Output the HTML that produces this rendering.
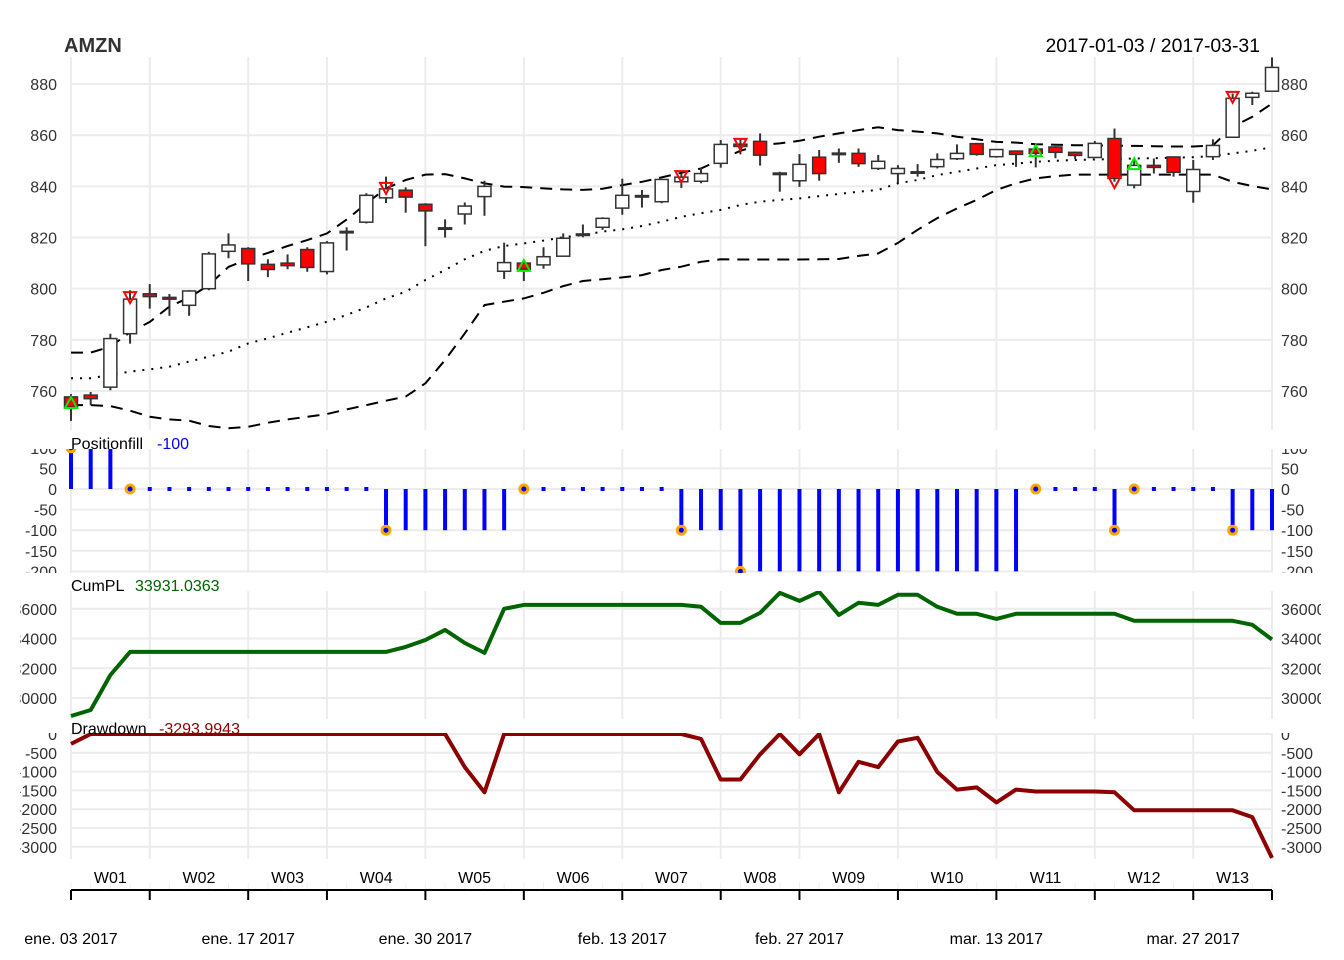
<!DOCTYPE html>
<html><head><meta charset="utf-8">
<style>
body{margin:0;background:#fff;}
svg{display:block;font-family:"Liberation Sans",Arial,sans-serif;}
</style></head>
<body>
<svg id="chart" width="1344" height="960" viewBox="0 0 1344 960" xmlns="http://www.w3.org/2000/svg">
<defs>
<clipPath id="cPrice"><rect x="0" y="57" width="1344" height="373"/></clipPath>
<clipPath id="cPos"><rect x="0" y="449" width="1344" height="124"/></clipPath>
<clipPath id="cPosL"><rect x="20" y="449" width="1302" height="124"/></clipPath>
<clipPath id="cPL"><rect x="0" y="591" width="1344" height="128"/></clipPath>
<clipPath id="cPLL"><rect x="20" y="591" width="1301" height="128"/></clipPath>
<clipPath id="cDD"><rect x="0" y="733" width="1344" height="126"/></clipPath>
<clipPath id="cDDL"><rect x="20" y="733" width="1302" height="126"/></clipPath>
</defs>
<text x="64" y="52" font-size="20" font-weight="bold" fill="#333">AMZN</text>
<text x="1260" y="52" font-size="19.4" text-anchor="end" fill="#000">2017-01-03 / 2017-03-31</text>
<g id="grid"></g>
<g id="marks"></g>
<g id="labels"></g>
</svg>
<script>
// ---- data ----
const dates = ["2017-01-03","2017-01-04","2017-01-05","2017-01-06","2017-01-09","2017-01-10","2017-01-11","2017-01-12","2017-01-13","2017-01-17","2017-01-18","2017-01-19","2017-01-20","2017-01-23","2017-01-24","2017-01-25","2017-01-26","2017-01-27","2017-01-30","2017-01-31","2017-02-01","2017-02-02","2017-02-03","2017-02-06","2017-02-07","2017-02-08","2017-02-09","2017-02-10","2017-02-13","2017-02-14","2017-02-15","2017-02-16","2017-02-17","2017-02-21","2017-02-22","2017-02-23","2017-02-24","2017-02-27","2017-02-28","2017-03-01","2017-03-02","2017-03-03","2017-03-06","2017-03-07","2017-03-08","2017-03-09","2017-03-10","2017-03-13","2017-03-14","2017-03-15","2017-03-16","2017-03-17","2017-03-20","2017-03-21","2017-03-22","2017-03-23","2017-03-24","2017-03-27","2017-03-28","2017-03-29","2017-03-30","2017-03-31"];
const opens  = [757.7,758.4,761.5,782.4,798.0,796.6,793.5,800.0,814.6,815.7,809.5,810.0,815.3,806.7,822.0,826.0,835.5,838.5,833.0,823.8,829.2,836.0,806.8,810.0,809.3,812.7,821.0,824.0,831.5,836.0,834.0,841.8,842.0,849.0,856.5,857.6,845.0,842.2,851.4,852.7,852.9,847.0,845.0,845.5,847.7,850.8,856.7,851.6,853.8,854.6,855.4,853.3,851.3,858.7,840.5,848.2,851.5,838.0,851.6,859.2,874.8,877.2];
const highs  = [758.8,759.6,782.4,799.4,801.8,797.9,799.4,814.4,821.6,816.2,811.5,813.4,816.2,818.6,824.0,837.3,843.8,839.6,833.4,827.1,833.7,842.2,818.0,810.5,816.2,821.6,825.1,827.9,843.0,838.6,842.7,845.0,847.3,858.1,858.4,860.7,845.7,852.6,854.2,854.8,854.8,852.3,848.3,848.7,852.9,856.4,857.0,854.6,853.8,856.2,855.7,853.6,857.7,862.6,850.3,850.9,851.6,850.3,858.4,876.3,877.0,890.4];
const lows   = [748.3,754.4,760.3,778.5,792.2,789.4,789.4,799.4,811.9,803.0,804.5,807.6,806.6,805.6,814.9,825.5,833.5,829.7,816.6,820.0,825.1,828.5,803.8,803.0,807.8,812.5,820.1,823.0,828.9,831.7,833.4,839.4,841.2,847.3,852.5,848.1,837.9,839.8,842.2,849.2,847.6,846.4,841.4,843.8,847.0,850.3,852.0,851.2,847.6,847.4,851.0,850.7,851.2,841.8,839.2,845.0,843.8,833.6,850.3,859.0,871.8,877.2];
const closes = [753.7,757.0,780.5,795.9,796.9,795.9,799.1,813.6,817.1,809.7,807.5,809.0,808.3,817.9,822.4,836.5,839.0,835.8,830.4,823.5,832.3,840.0,810.2,807.6,812.5,819.7,821.4,827.5,836.5,836.4,842.7,843.6,845.0,856.4,855.6,852.2,845.2,848.6,845.0,853.0,848.9,849.8,847.0,845.7,850.5,852.9,852.5,854.4,852.5,852.9,853.3,852.1,856.8,843.1,848.2,847.4,845.5,846.6,856.0,874.4,876.4,886.5];
const bbUpper = [775,775,777.3,783,787,793,796.5,801.4,808.5,811.6,814,816.7,819,821.6,827,833.3,839.2,842.5,844.6,844.8,843.1,841.2,839.9,839.7,839.2,838.8,838.6,839.1,840.5,841.8,843.5,845.3,847,850.5,853.9,856.2,856.8,857.8,859.4,860.7,862,863.1,862,861.4,860.7,859.4,858.4,857.4,857.1,856.5,856.3,856.1,856,855.9,855.8,855.7,855.6,855.6,856,863.3,867.2,872.4];
const bbMid   = [765,765,766.3,767.6,768.5,769.5,771.5,773.4,775.4,778.6,780.6,782.8,784.9,787.1,789.7,792.7,796.2,798.8,803.4,807.3,811.5,814.8,816.7,817.7,818.8,820.1,821,822.3,823.2,824.5,826.2,828.1,829.5,830.8,832.7,834,834.7,835.3,836.2,837,837.9,838.6,841.2,842.5,844.4,845.7,847,848.3,848.9,849.6,850,850.3,850.5,850.7,850.9,851,851.2,851.4,851.9,852.9,853.9,855.3];
const bbLower = [754.5,754.5,754.1,752.3,749.9,748.9,748.4,746.3,745.4,746,747.6,748.9,749.9,751,752.8,754.5,756.2,757.8,763,772.1,782.5,793.6,794.9,796.2,798.4,801,803,803.7,804.4,805.3,807.3,808.6,810.5,811.5,811.4,811.4,811.4,811.4,811.5,811.6,812.8,813.8,817.9,823,827.6,831.4,834.7,838.6,841.2,843.1,844,844.6,844.6,844.6,844.6,844.6,844.6,844.6,844.6,841.8,840.1,838.8];
const buyIdx = [0,23,49,54];
const buyPx  = [755.3,808.9,853.8,848.7];
const sellIdx = [3,16,31,34,53,59];
const sellPx  = [796.7,839.4,844.0,856.6,841.7,875.0];
const position = [100,100,100,0,0,0,0,0,0,0,0,0,0,0,0,0,-100,-100,-100,-100,-100,-100,-100,0,0,0,0,0,0,0,0,-100,-100,-100,-200,-200,-200,-200,-200,-200,-200,-200,-200,-200,-200,-200,-200,-200,-200,0,0,0,0,-100,0,0,0,0,0,-100,-100,-100];
const txnIdx = [0,3,16,23,31,34,49,53,54,59];
const cumPL = [28788,29192,31550,33100,33100,33100,33100,33100,33100,33100,33100,33100,33100,33100,33100,33100,33100,33434,33900,34580,33700,33030,36000,36260,36260,36260,36260,36260,36260,36260,36260,36260,36130,35050,35050,35720,37070,36530,37140,35590,36400,36260,36940,36940,36130,35660,35660,35320,35660,35660,35660,35660,35660,35660,35190,35190,35190,35190,35190,35190,34920,33931];
const drawdown = [-263,0,0,0,0,0,0,0,0,0,0,0,0,0,0,0,0,0,0,0,-880,-1550,0,0,0,0,0,0,0,0,0,0,-130,-1210,-1210,-540,0,-540,0,-1550,-740,-880,-200,-100,-1010,-1480,-1420,-1820,-1480,-1530,-1530,-1530,-1530,-1550,-2030,-2030,-2030,-2030,-2030,-2030,-2210,-3294];
const priceTicks = [760,780,800,820,840,860,880];
const posTicks = [100,50,0,-50,-100,-150,-200];
const plTicks = [30000,32000,34000,36000];
const ddTicks = [0,-500,-1000,-1500,-2000,-2500,-3000];
const weekStartIdx = [0,4,9,13,18,23,28,33,37,42,47,52,57,61];
const weekLabels = ["W01","W02","W03","W04","W05","W06","W07","W08","W09","W10","W11","W12","W13"];
const dateLabelIdx = [0,9,18,28,37,47,57];
const dateLabels = ["ene. 03 2017","ene. 17 2017","ene. 30 2017","feb. 13 2017","feb. 27 2017","mar. 13 2017","mar. 27 2017"];

// ---- scales ----
const N = dates.length;
const X0 = 71, X1 = 1272;
const xs = i => X0 + i*(X1-X0)/(N-1);
const yPrice = p => 391 - (p-760)*2.558;
const yPos = v => 489 - v*0.412;
const yPL = v => 698 - (v-30000)*0.01487;
const yDD = v => 734 - v*0.0376;

const NS = "http://www.w3.org/2000/svg";
const grid = document.getElementById('grid');
const marks = document.getElementById('marks');
const labels = document.getElementById('labels');
function el(tag, attrs, parent){
  const e = document.createElementNS(NS, tag);
  for (const k in attrs) e.setAttribute(k, attrs[k]);
  parent.appendChild(e);
  return e;
}
function txt(s, attrs, parent){ const t = el('text', attrs, parent); t.textContent = s; return t; }

const panels = [
  {ticks:priceTicks, y:yPrice, top:57, bot:430, clip:'cPrice', clipL:null, name:'price'},
  {ticks:posTicks, y:yPos, top:449, bot:573, clip:'cPos', clipL:'cPosL', name:'position'},
  {ticks:plTicks, y:yPL, top:591, bot:719, clip:'cPL', clipL:'cPLL', name:'cumpl'},
  {ticks:ddTicks, y:yDD, top:733, bot:859, clip:'cDD', clipL:'cDDL', name:'drawdown'}
];
panels.forEach(p=>{
  p.ticks.forEach(t=>{
    const ln = el('line',{x1:X0,x2:X1,y1:p.y(t),y2:p.y(t),stroke:'#ececec','stroke-width':2,'clip-path':'url(#'+p.clip+')'},grid);
    
    
    const g = el('g', p.clipL?{'clip-path':'url(#'+p.clipL+')'}:{}, labels);
    const l1 = txt(String(t),{x:57,y:p.y(t)+6,'font-size':16,'text-anchor':'end',fill:'#333'},g);
    
    
    const l2 = txt(String(t),{x:1281,y:p.y(t)+6,'font-size':16,'text-anchor':'start',fill:'#333'},g);
    
    
  });
  weekStartIdx.forEach(i=>{
    const v = el('line',{x1:xs(i),x2:xs(i),y1:p.top,y2:p.bot,stroke:'#ececec','stroke-width':2},grid);
    
    
  });
});

function polyline(vals, yf, attrs, parent){
  const pts = vals.map((v,i)=>xs(i).toFixed(1)+','+yf(v).toFixed(1)).join(' ');
  return el('polyline', Object.assign({points:pts, fill:'none'}, attrs), parent);
}
const gP = el('g',{'clip-path':'url(#cPrice)'},marks);
const bu = polyline(bbUpper, yPrice, {stroke:'#000','stroke-width':2,'stroke-dasharray':'12,8'}, gP);


const bl = polyline(bbLower, yPrice, {stroke:'#000','stroke-width':2,'stroke-dasharray':'12,8'}, gP);


const bm = polyline(bbMid, yPrice, {stroke:'#000','stroke-width':2,'stroke-dasharray':'2,7'}, gP);



for (let i=0;i<N;i++){
  const x = xs(i);
  const w = el('line',{x1:x,x2:x,y1:yPrice(highs[i]),y2:yPrice(lows[i]),stroke:'#333','stroke-width':2},gP);
  
  
  const up = closes[i] >= opens[i];
  const yt = yPrice(Math.max(opens[i],closes[i]));
  const yb = yPrice(Math.min(opens[i],closes[i]));
  const b = el('rect',{x:x-6.5,y:yt,width:13,height:Math.max(yb-yt,1.5),fill:up?'#fff':'#ff0000',stroke:'#333','stroke-width':1.5},gP);
  
  
}
buyIdx.forEach((i,k)=>{
  const x=xs(i), y=yPrice(buyPx[k]);
  const t = el('polygon',{points:`${x-6},${y+5} ${x+6},${y+5} ${x},${y-6}`,fill:'none',stroke:'#00ee00','stroke-width':2},gP);
  
  
});
sellIdx.forEach((i,k)=>{
  const x=xs(i), y=yPrice(sellPx[k]);
  const t = el('polygon',{points:`${x-6},${y-5} ${x+6},${y-5} ${x},${y+6}`,fill:'none',stroke:'#ff0000','stroke-width':2},gP);
  
  
});

const gPos = el('g',{'clip-path':'url(#cPos)'},marks);
for (let i=0;i<N;i++){
  const x = xs(i);
  if (position[i] === 0){
    const d = el('rect',{x:x-2,y:yPos(0)-2,width:4,height:4,fill:'#0000ff'},gPos);
    
    
  } else {
    const b = el('line',{x1:x,x2:x,y1:yPos(0),y2:yPos(position[i]),stroke:'#0000ff','stroke-width':4},gPos);
    
    
  }
}
txnIdx.forEach(i=>{
  const c = el('circle',{cx:xs(i),cy:yPos(position[i]),r:4,fill:'#0000ff',stroke:'#ffa500','stroke-width':3},gPos);
  
  
});
const tp = txt('Positionfill',{x:71,y:449,'font-size':16,fill:'#000'},labels);


const tpv = txt('-100',{x:157,y:449,'font-size':16,fill:'#0000ff'},labels);



const gPL = el('g',{'clip-path':'url(#cPL)'},marks);
const pl = polyline(cumPL, yPL, {stroke:'#006400','stroke-width':4,'stroke-linejoin':'round'}, gPL);


const tc = txt('CumPL',{x:71,y:591,'font-size':16,fill:'#000'},labels);


const tcv = txt('33931.0363',{x:135,y:591,'font-size':16,fill:'#006400'},labels);



const gDD = el('g',{'clip-path':'url(#cDD)'},marks);
const dd = polyline(drawdown, yDD, {stroke:'#8b0000','stroke-width':4,'stroke-linejoin':'round'}, gDD);


const td = txt('Drawdown',{x:71,y:734,'font-size':16,fill:'#000'},labels);


const tdv = txt('-3293.9943',{x:159,y:734,'font-size':16,fill:'#8b0000'},labels);



const ax = el('line',{x1:X0,x2:X1,y1:890,y2:890,stroke:'#000','stroke-width':2},labels);


weekStartIdx.forEach(i=>{
  const t = el('line',{x1:xs(i),x2:xs(i),y1:890,y2:900,stroke:'#000','stroke-width':2},labels);
  
  
});
for (let i=0;i<N;i++){
  const m = el('line',{x1:xs(i),x2:xs(i),y1:883,y2:890,stroke:'#eeeeee','stroke-width':1},grid);
  
  
}
weekLabels.forEach((s,k)=>{
  const cx = (xs(weekStartIdx[k])+xs(weekStartIdx[k+1]))/2;
  const t = txt(s,{x:cx,y:883,'font-size':16,'text-anchor':'middle',fill:'#000'},labels);
  
  
});
dateLabels.forEach((s,k)=>{
  const t = txt(s,{x:xs(dateLabelIdx[k]),y:944,'font-size':16,'text-anchor':'middle',fill:'#000'},labels);
  
  
});
</script>
</body></html>
